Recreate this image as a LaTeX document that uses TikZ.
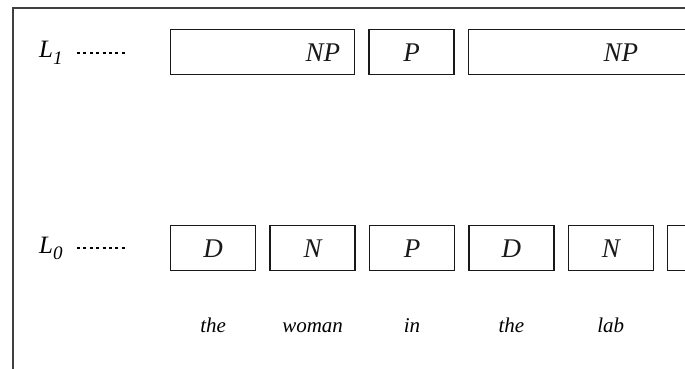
\documentclass[tikz,border=0pt]{standalone}
\usepackage{fontspec}
\setmainfont{Liberation Serif}
\usepackage{tikz}
\usetikzlibrary{positioning}

\begin{document}
\begin{tikzpicture}[x=1pt,y=-1pt,node distance=13pt,
    cat node/.style={draw,line width=1.4pt,black!90,minimum width=85pt,minimum height=45pt,inner sep=0pt,font=\fontsize{27}{27}\selectfont\itshape},
    phrase node/.style={cat node,text width=#1,align=left},
    word node/.style={font=\fontsize{21}{21}\selectfont\itshape,anchor=base},
    level node/.style={font=\fontsize{25}{25}\selectfont\itshape,anchor=base west,inner sep=0pt},
    leader/.style={line width=1.4pt,dash pattern=on 3pt off 3.4pt}]
    \useasboundingbox (0,0) rectangle (685,369);
    \clip (0,0) rectangle (685,369);
    \draw[line width=1.5pt,black!75] (700,8) -| (13,380);

    % levels
    \node[level node] (l1) at (39,58) {L\raisebox{-6pt}{\fontsize{19}{19}\selectfont 1}};
    \node[level node] (l0) at (39,253) {L\raisebox{-6pt}{\fontsize{19}{19}\selectfont 0}};
    \coordinate (l1a) at (77,53);
    \coordinate (l1b) at (128,53);
    \coordinate (l0a) at (77,248);
    \coordinate (l0b) at (128,248);
    \draw[leader] (l1a) -- (l1b);
    \draw[leader] (l0a) -- (l0b);

    % L1
    \node[phrase node=184pt,anchor=north west] (np1) at (170,29) {\hspace*{135pt}NP};
    \node[cat node] (p1) [right=of np1] {P};
    \node[phrase node=270pt] (np2) [right=of p1] {\hspace*{135pt}NP};

    % L0
    \node[cat node,anchor=north west] (d0) at (170,225) {D};
    \node[cat node] (n0) [right=of d0] {N};
    \node[cat node] (p0) [right=of n0] {P};
    \node[cat node] (d0b) [right=of p0] {D};
    \node[cat node] (n0b) [right=of d0b] {N};
    \node[cat node] (x0) [right=of n0b] {};

    % words
    \coordinate (words) at (0,332);
    \node[word node] (w1) at (d0 |- words) {the};
    \node[word node] (w2) at (n0 |- words) {woman};
    \node[word node] (w3) at (p0 |- words) {in};
    \node[word node] (w4) at (d0b |- words) {the};
    \node[word node] (w5) at (n0b |- words) {lab};
\end{tikzpicture}
\end{document}
